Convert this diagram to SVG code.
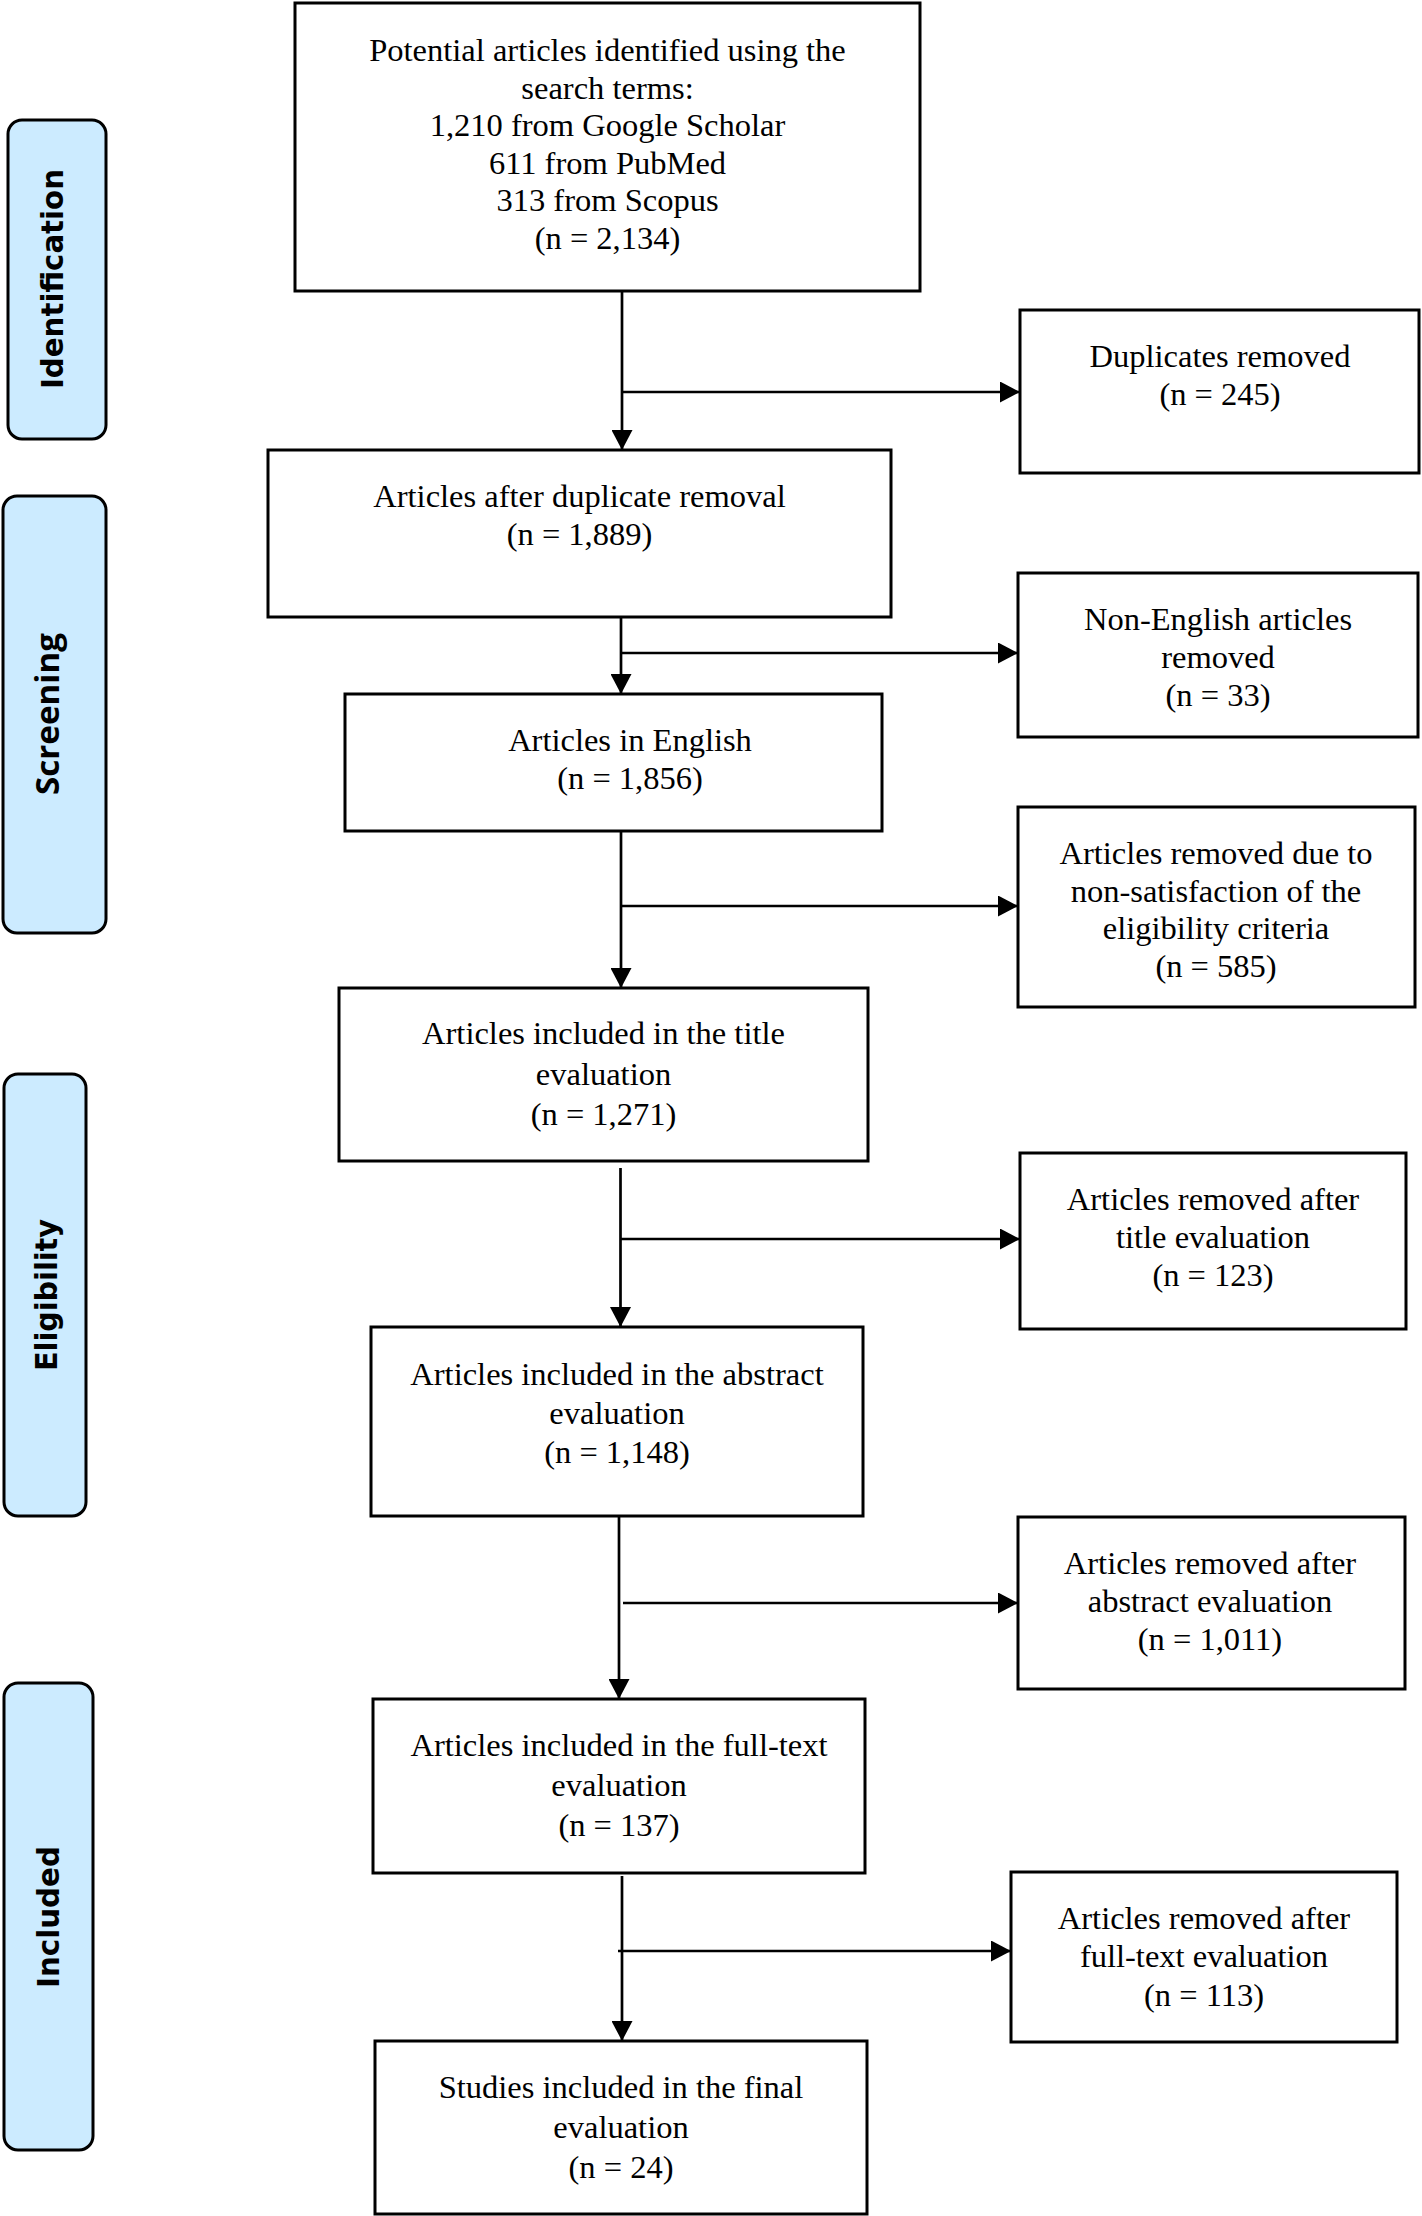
<svg xmlns="http://www.w3.org/2000/svg" width="1422" height="2216" viewBox="0 0 1422 2216">
<defs>
<marker id="arr" markerUnits="userSpaceOnUse" viewBox="0 0 20 21" markerWidth="20" markerHeight="21" refX="20" refY="10.5" orient="auto">
<path d="M0,0 L20,10.5 L0,21 z" fill="#000"/>
</marker>
<style>
.box{fill:#fff;stroke:#000;stroke-width:3}
.phase{fill:#CCEBFF;stroke:#000;stroke-width:3}
.t{font-family:"Liberation Serif","Times New Roman",serif;font-size:32.5px;fill:#000;text-anchor:middle}
.pl{font-family:"DejaVu Sans",Verdana,sans-serif;font-weight:bold;font-size:31px;fill:#000;text-anchor:middle}
.ln{stroke:#000;stroke-width:2.7;fill:none}
</style>
</defs>
<rect width="1422" height="2216" fill="#fff"/>

<g id="phase-identification">
<rect class="phase" x="8" y="120" width="98" height="319" rx="14"/>
<text class="pl" transform="translate(63,279) rotate(-90)" textLength="220" lengthAdjust="spacingAndGlyphs">Identification</text>
</g>
<g id="phase-screening">
<rect class="phase" x="3" y="496" width="103" height="437" rx="14"/>
<text class="pl" style="font-family:'Open Sans','DejaVu Sans',sans-serif;font-size:33px" transform="translate(59,714) rotate(-90)" textLength="162" lengthAdjust="spacingAndGlyphs">Screening</text>
</g>
<g id="phase-eligibility">
<rect class="phase" x="4" y="1074" width="82" height="442" rx="14"/>
<text class="pl" transform="translate(57,1295) rotate(-90)" textLength="152" lengthAdjust="spacingAndGlyphs">Eligibility</text>
</g>
<g id="phase-included">
<rect class="phase" x="4" y="1683" width="89" height="467" rx="14"/>
<text class="pl" transform="translate(59,1917) rotate(-90)" textLength="142" lengthAdjust="spacingAndGlyphs">Included</text>
</g>

<g id="connectors">
<line class="ln" x1="622" y1="291" x2="622" y2="450" marker-end="url(#arr)"/>
<line class="ln" x1="622" y1="392" x2="1020" y2="392" marker-end="url(#arr)"/>
<line class="ln" x1="621" y1="617" x2="621" y2="694" marker-end="url(#arr)"/>
<line class="ln" x1="621" y1="653" x2="1018" y2="653" marker-end="url(#arr)"/>
<line class="ln" x1="621" y1="831" x2="621" y2="988" marker-end="url(#arr)"/>
<line class="ln" x1="621" y1="906" x2="1018" y2="906" marker-end="url(#arr)"/>
<line class="ln" x1="620.5" y1="1168" x2="620.5" y2="1327" marker-end="url(#arr)"/>
<line class="ln" x1="621" y1="1239" x2="1020" y2="1239" marker-end="url(#arr)"/>
<line class="ln" x1="619" y1="1516" x2="619" y2="1699" marker-end="url(#arr)"/>
<line class="ln" x1="623" y1="1603" x2="1018" y2="1603" marker-end="url(#arr)"/>
<line class="ln" x1="622" y1="1876" x2="622" y2="2041" marker-end="url(#arr)"/>
<line class="ln" x1="618" y1="1951" x2="1011" y2="1951" marker-end="url(#arr)"/>
</g>

<g id="n1">
<rect class="box" x="295" y="3" width="625" height="288"/>
<text class="t" x="607.5" y="61">Potential articles identified using the</text>
<text class="t" x="607.5" y="98.5">search terms:</text>
<text class="t" x="607.5" y="136">1,210 from Google Scholar</text>
<text class="t" x="607.5" y="173.5">611 from PubMed</text>
<text class="t" x="607.5" y="211">313 from Scopus</text>
<text class="t" x="607.5" y="248.5">(n = 2,134)</text>
</g>
<g id="n2">
<rect class="box" x="1020" y="310" width="399" height="163"/>
<text class="t" x="1220" y="367">Duplicates removed</text>
<text class="t" x="1220" y="405">(n = 245)</text>
</g>
<g id="n3">
<rect class="box" x="268" y="450" width="623" height="167"/>
<text class="t" x="579.5" y="507">Articles after duplicate removal</text>
<text class="t" x="579.5" y="545">(n = 1,889)</text>
</g>
<g id="n4">
<rect class="box" x="1018" y="573" width="400" height="164"/>
<text class="t" x="1218" y="630">Non-English articles</text>
<text class="t" x="1218" y="668">removed</text>
<text class="t" x="1218" y="706">(n = 33)</text>
</g>
<g id="n5">
<rect class="box" x="345" y="694" width="537" height="137"/>
<text class="t" x="630" y="751">Articles in English</text>
<text class="t" x="630" y="789">(n = 1,856)</text>
</g>
<g id="n6">
<rect class="box" x="1018" y="807" width="397" height="200"/>
<text class="t" x="1216" y="864">Articles removed due to</text>
<text class="t" x="1216" y="902">non-satisfaction of the</text>
<text class="t" x="1216" y="939">eligibility criteria</text>
<text class="t" x="1216" y="977">(n = 585)</text>
</g>
<g id="n7">
<rect class="box" x="339" y="988" width="529" height="173"/>
<text class="t" x="603.5" y="1044">Articles included in the title</text>
<text class="t" x="603.5" y="1085">evaluation</text>
<text class="t" x="603.5" y="1125">(n = 1,271)</text>
</g>
<g id="n8">
<rect class="box" x="1020" y="1153" width="386" height="176"/>
<text class="t" x="1213" y="1210">Articles removed after</text>
<text class="t" x="1213" y="1248">title evaluation</text>
<text class="t" x="1213" y="1286">(n = 123)</text>
</g>
<g id="n9">
<rect class="box" x="371" y="1327" width="492" height="189"/>
<text class="t" x="617" y="1385">Articles included in the abstract</text>
<text class="t" x="617" y="1424">evaluation</text>
<text class="t" x="617" y="1463">(n = 1,148)</text>
</g>
<g id="n10">
<rect class="box" x="1018" y="1517" width="387" height="172"/>
<text class="t" x="1210" y="1574">Articles removed after</text>
<text class="t" x="1210" y="1612">abstract evaluation</text>
<text class="t" x="1210" y="1650">(n = 1,011)</text>
</g>
<g id="n11">
<rect class="box" x="373" y="1699" width="492" height="174"/>
<text class="t" x="619" y="1756">Articles included in the full-text</text>
<text class="t" x="619" y="1796">evaluation</text>
<text class="t" x="619" y="1836">(n = 137)</text>
</g>
<g id="n12">
<rect class="box" x="1011" y="1872" width="386" height="170"/>
<text class="t" x="1204" y="1929">Articles removed after</text>
<text class="t" x="1204" y="1967">full-text evaluation</text>
<text class="t" x="1204" y="2006">(n = 113)</text>
</g>
<g id="n13">
<rect class="box" x="375" y="2041" width="492" height="173"/>
<text class="t" x="621" y="2098">Studies included in the final</text>
<text class="t" x="621" y="2138">evaluation</text>
<text class="t" x="621" y="2178">(n = 24)</text>
</g>
</svg>
